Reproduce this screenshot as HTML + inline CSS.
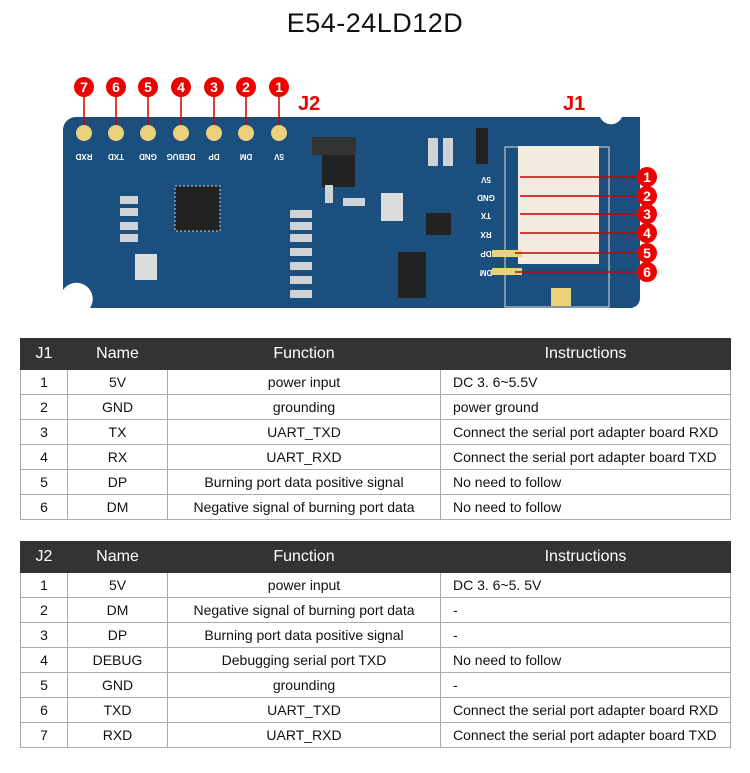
<!DOCTYPE html><html><head><style>
body{margin:0;width:750px;height:773px;background:#fff;font-family:"Liberation Sans",sans-serif;position:relative;overflow:hidden}
h1{position:absolute;top:8px;left:0;width:750px;text-align:center;font-size:27px;font-weight:normal;margin:0;color:#111;letter-spacing:0.5px}
table{position:absolute;left:20px;width:711px;border-collapse:collapse;font-size:14px;color:#111}
td,th{border:1px solid #aaa;text-align:center;height:24px;padding:0}
th{background:#333;color:#fff;font-weight:normal;font-size:16px;height:30px;border-color:#333}
td.l{text-align:left;padding-left:12px}
</style></head><body>
<h1>E54-24LD12D</h1>
<svg width="750" height="330" style="position:absolute;left:0;top:0" font-family="Liberation Sans">
<path d="M75 117 H600 A12 12 0 0 0 622 117 H640 V298 A10 10 0 0 1 630 308 H90 A14 14 0 0 0 63 290 V130 A13 13 0 0 1 75 117Z" fill="#1b4f7e"/>
<g fill="#ecd07a">
<circle cx="84" cy="133" r="8"/><circle cx="116" cy="133" r="8"/><circle cx="148" cy="133" r="8"/><circle cx="181" cy="133" r="8"/><circle cx="214" cy="133" r="8"/><circle cx="246" cy="133" r="8"/><circle cx="279" cy="133" r="8"/></g>
<g fill="#fff" font-size="8" font-weight="bold" text-anchor="middle">
<text transform="translate(84,154) rotate(180)">RXD</text><text transform="translate(116,154) rotate(180)">TXD</text><text transform="translate(148,154) rotate(180)">GND</text><text transform="translate(181,154) rotate(180)">DEBUG</text><text transform="translate(214,154) rotate(180)">DP</text><text transform="translate(246,154) rotate(180)">DM</text><text transform="translate(279,154) rotate(180)">5V</text>
<text transform="translate(486,177) rotate(180)">5V</text><text transform="translate(486,195) rotate(180)">GND</text><text transform="translate(486,213) rotate(180)">TX</text><text transform="translate(486,232) rotate(180)">RX</text><text transform="translate(486,251) rotate(180)">DP</text><text transform="translate(486,270) rotate(180)">DM</text></g>
<g stroke="#c00" stroke-width="1.5"><line x1="84" y1="90" x2="84" y2="125"/><line x1="116" y1="90" x2="116" y2="125"/><line x1="148" y1="90" x2="148" y2="125"/><line x1="181" y1="90" x2="181" y2="125"/><line x1="214" y1="90" x2="214" y2="125"/><line x1="246" y1="90" x2="246" y2="125"/><line x1="279" y1="90" x2="279" y2="125"/></g>
<g fill="#e00"><circle cx="84" cy="87" r="10"/><circle cx="116" cy="87" r="10"/><circle cx="148" cy="87" r="10"/><circle cx="181" cy="87" r="10"/><circle cx="214" cy="87" r="10"/><circle cx="246" cy="87" r="10"/><circle cx="279" cy="87" r="10"/></g>
<g fill="#fff" font-size="14" font-weight="bold" text-anchor="middle"><text x="84" y="92">7</text><text x="116" y="92">6</text><text x="148" y="92">5</text><text x="181" y="92">4</text><text x="214" y="92">3</text><text x="246" y="92">2</text><text x="279" y="92">1</text></g>
<text x="298" y="110" fill="#e00" font-size="20" font-weight="bold">J2</text>
<text x="563" y="110" fill="#e00" font-size="20" font-weight="bold">J1</text>
<rect x="505" y="147" width="104" height="160" fill="none" stroke="#ddd"/>
<rect x="518" y="146" width="81" height="118" fill="#f1ebe0"/>
<rect x="551" y="288" width="20" height="18" fill="#ecd07a"/>
<rect x="492" y="250" width="30" height="7" fill="#ecd07a"/><rect x="492" y="268" width="30" height="7" fill="#ecd07a"/>
<rect x="175" y="186" width="45" height="45" fill="#222" stroke="#ccc" stroke-dasharray="2 2"/>
<rect x="322" y="155" width="33" height="32" fill="#222"/>
<rect x="312" y="137" width="44" height="18" fill="#333"/>
<rect x="398" y="252" width="28" height="46" fill="#222"/>
<rect x="426" y="213" width="25" height="22" fill="#222"/>
<rect x="476" y="128" width="12" height="36" fill="#222"/>
<rect x="135" y="254" width="22" height="26" fill="#ddd"/>
<rect x="381" y="193" width="22" height="28" fill="#ddd"/>
<g fill="#cfd3d6"><rect x="290" y="210" width="22" height="8"/><rect x="290" y="222" width="22" height="8"/><rect x="290" y="234" width="22" height="8"/><rect x="290" y="248" width="22" height="8"/><rect x="290" y="262" width="22" height="8"/><rect x="290" y="276" width="22" height="8"/><rect x="290" y="290" width="22" height="8"/>
<rect x="120" y="196" width="18" height="8"/><rect x="120" y="208" width="18" height="8"/><rect x="120" y="222" width="18" height="8"/><rect x="120" y="234" width="18" height="8"/><rect x="428" y="138" width="10" height="28"/><rect x="443" y="138" width="10" height="28"/><rect x="343" y="198" width="22" height="8"/><rect x="325" y="185" width="8" height="18"/></g>
<g stroke="#c00" stroke-width="1.5"><line x1="520" y1="177" x2="640" y2="177"/><line x1="520" y1="196" x2="640" y2="196"/><line x1="520" y1="214" x2="640" y2="214"/><line x1="520" y1="233" x2="640" y2="233"/><line x1="515" y1="253" x2="640" y2="253"/><line x1="515" y1="272" x2="640" y2="272"/></g>
<g fill="#e00"><circle cx="647" cy="177" r="10"/><circle cx="647" cy="196" r="10"/><circle cx="647" cy="214" r="10"/><circle cx="647" cy="233" r="10"/><circle cx="647" cy="253" r="10"/><circle cx="647" cy="272" r="10"/></g>
<g fill="#fff" font-size="14" font-weight="bold" text-anchor="middle"><text x="647" y="182">1</text><text x="647" y="201">2</text><text x="647" y="219">3</text><text x="647" y="238">4</text><text x="647" y="258">5</text><text x="647" y="277">6</text></g>
</svg>
<table style="top:338px"><colgroup><col style="width:47px"><col style="width:100px"><col style="width:273px"><col></colgroup>
<tr><th>J1</th><th>Name</th><th>Function</th><th>Instructions</th></tr>
<tr><td>1</td><td>5V</td><td>power input</td><td class="l">DC 3. 6~5.5V</td></tr>
<tr><td>2</td><td>GND</td><td>grounding</td><td class="l">power ground</td></tr>
<tr><td>3</td><td>TX</td><td>UART_TXD</td><td class="l">Connect the serial port adapter board RXD</td></tr>
<tr><td>4</td><td>RX</td><td>UART_RXD</td><td class="l">Connect the serial port adapter board TXD</td></tr>
<tr><td>5</td><td>DP</td><td>Burning port data positive signal</td><td class="l">No need to follow</td></tr>
<tr><td>6</td><td>DM</td><td>Negative signal of burning port data</td><td class="l">No need to follow</td></tr>
</table>
<table style="top:541px"><colgroup><col style="width:47px"><col style="width:100px"><col style="width:273px"><col></colgroup>
<tr><th style="height:26px">J2</th><th>Name</th><th>Function</th><th>Instructions</th></tr>
<tr><td>1</td><td>5V</td><td>power input</td><td class="l">DC 3. 6~5. 5V</td></tr>
<tr><td>2</td><td>DM</td><td>Negative signal of burning port data</td><td class="l">-</td></tr>
<tr><td>3</td><td>DP</td><td>Burning port data positive signal</td><td class="l">-</td></tr>
<tr><td>4</td><td>DEBUG</td><td>Debugging serial port TXD</td><td class="l">No need to follow</td></tr>
<tr><td>5</td><td>GND</td><td>grounding</td><td class="l">-</td></tr>
<tr><td>6</td><td>TXD</td><td>UART_TXD</td><td class="l">Connect the serial port adapter board RXD</td></tr>
<tr><td>7</td><td>RXD</td><td>UART_RXD</td><td class="l">Connect the serial port adapter board TXD</td></tr>
</table>
</body></html>
